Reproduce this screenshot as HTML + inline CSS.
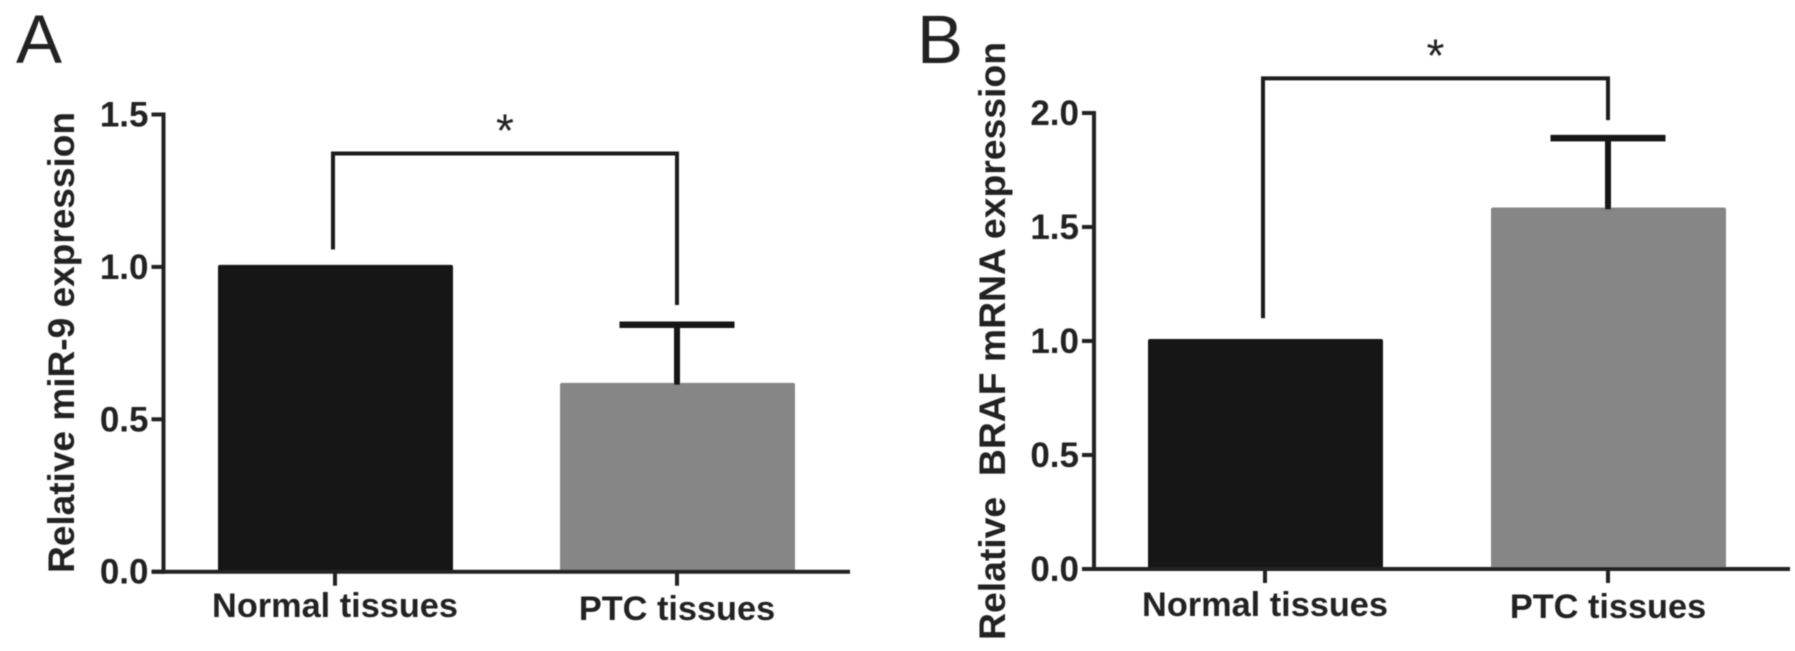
<!DOCTYPE html>
<html>
<head>
<meta charset="utf-8">
<title>miR-9 and BRAF expression</title>
<style>
html,body{margin:0;padding:0;background:#fff;width:1795px;height:651px;overflow:hidden}
svg{display:block}
text{font-family:"Liberation Sans",Arial,sans-serif;fill:#222}
</style>
</head>
<body>
<svg id="figure" xmlns="http://www.w3.org/2000/svg" width="1795" height="651" viewBox="0 0 1795 651">
  <defs><filter id="soft" x="-5%" y="-5%" width="110%" height="110%"><feGaussianBlur stdDeviation="0.55"/></filter></defs>
  <rect width="1795" height="651" fill="#fff"/>
  <g id="root" filter="url(#soft)"></g>
</svg>
<script>
// Shared categories
const categories = ['Normal tissues', 'PTC tissues'];
const barColors = ['#181818', '#868686'];
const tickLabels = ['0.0', '0.5', '1.0', '1.5', '2.0'];

// Panel A data
const aValues = [1.0, 0.613];
const aErrors = [0, 0.197];
const aTicks = [0, 0.5, 1.0, 1.5];
const aBracket = [1.372, 1.057, 0.875];

// Panel B data
const bValues = [1.0, 1.577];
const bErrors = [0, 0.313];
const bTicks = [0, 0.5, 1.0, 1.5, 2.0];
const bBracket = [2.152, 1.10, 1.969];

const NS = 'http://www.w3.org/2000/svg';
const root = document.getElementById('root');

function make(tag, attrs, parent) {
  const el = document.createElementNS(NS, tag);
  for (const k in attrs) el.setAttribute(k, attrs[k]);
  parent.appendChild(el);
  return el;
}

function drawPanel(p) {
  const y = v => p.y0 - v * p.unit;
  const x = i => p.x0 + i * p.step;
  const halfBar = 117.5, halfCap = 57.5, barBorder = 2;

  const g = make('g', {}, root);
  
  

  const letter = make('text', {x: p.letterX, y: 63, 'font-size': 69}, g);
  letter.textContent = p.letter;
  
  

  p.values.forEach((v, i) => {
    const bar = make('rect', {x: x(i) - halfBar + 0.5, y: y(v) - barBorder, width: halfBar * 2, height: y(0) - y(v) + barBorder, rx: 2, fill: barColors[i]}, g);
    
    

    if (p.errors[i] > 0) {
      const stem = make('line', {x1: x(i), x2: x(i), y1: y(v), y2: y(v + p.errors[i]), stroke: '#161616', 'stroke-width': 6}, g);
      
      
      const cap = make('line', {x1: x(i) - halfCap, x2: x(i) + halfCap, y1: y(v + p.errors[i]), y2: y(v + p.errors[i]), stroke: '#161616', 'stroke-width': 6.5}, g);
      
      
    }

    const xt = make('line', {x1: x(i), x2: x(i), y1: y(0), y2: y(0) + 14, stroke: '#222', 'stroke-width': 4}, g);
    
    

    const xl = make('text', {x: x(i), y: p.labelY[i], 'font-size': 34.3, 'font-weight': 'bold', 'text-anchor': 'middle', fill: '#222'}, g);
    xl.textContent = categories[i];
    
    
  });

  const yAxis = make('line', {x1: p.axisX, x2: p.axisX, y1: y(p.ticks[p.ticks.length - 1]) - 2, y2: y(0) + 2, stroke: '#222', 'stroke-width': 4}, g);
  
  

  const xAxis = make('line', {x1: p.axisX - 12, x2: p.axisEnd, y1: y(0), y2: y(0), stroke: '#222', 'stroke-width': 4}, g);
  
  

  p.ticks.forEach((t, i) => {
    const tick = make('line', {x1: p.axisX - 12, x2: p.axisX, y1: y(t), y2: y(t), stroke: '#222', 'stroke-width': 4}, g);
    
    
    const label = make('text', {x: p.axisX - 15, y: y(t) + 12, 'font-size': 35, 'font-weight': 'bold', 'text-anchor': 'end'}, g);
    label.textContent = tickLabels[i];
    
    
  });

  const tx = p.titleX, ty = p.titleY;
  const title = make('text', {x: tx, y: ty, 'font-size': 37, 'font-weight': 'bold', textLength: p.titleLen, lengthAdjust: 'spacingAndGlyphs', transform: 'rotate(-90 ' + tx + ' ' + ty + ')', 'xml:space': 'preserve', style: 'white-space:pre'}, g);
  title.textContent = p.title;
  
  

  const top = y(p.bracket[0]);
  const d = 'M' + (x(0) - 2) + ' ' + y(p.bracket[1]) + 'V' + top + 'H' + x(1) + 'V' + y(p.bracket[2]);
  const bracket = make('path', {d: d, fill: 'none', stroke: '#1e1e1e', 'stroke-width': 4}, g);
  
  

  const star = make('text', {x: (x(0) + x(1)) / 2 - 1, y: top - 7, 'font-size': 46, 'text-anchor': 'middle'}, g);
  star.textContent = '*';
  
  
}

drawPanel({
  id: 'panel-a', letter: 'A', letterX: 16,
  values: aValues, errors: aErrors, ticks: aTicks, bracket: aBracket,
  y0: 571.7, unit: 304.8, x0: 335, step: 342, axisX: 163.5, axisEnd: 850,
  labelY: [617, 620],
  title: 'Relative miR-9 expression', titleX: 74, titleY: 573, titleLen: 461
});
drawPanel({
  id: 'panel-b', letter: 'B', letterX: 917,
  values: bValues, errors: bErrors, ticks: bTicks, bracket: bBracket,
  y0: 569, unit: 228, x0: 1265, step: 343, axisX: 1094, axisEnd: 1790,
  labelY: [616, 618],
  title: 'Relative  BRAF mRNA expression', titleX: 1005, titleY: 640, titleLen: 598
});
</script>
</body>
</html>
